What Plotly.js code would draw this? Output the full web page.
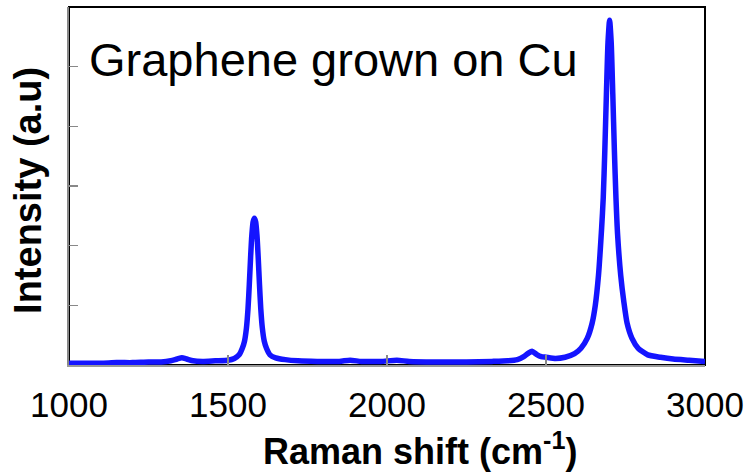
<!DOCTYPE html>
<html>
<head>
<meta charset="utf-8">
<script src="https://cdn.plot.ly/plotly-3.0.1.min.js"></script>
<style>html,body{margin:0;padding:0;background:#fff;}#chart{width:750px;height:476px;}</style>
</head>
<body>
<div id="chart"></div>
<script>
// Raman shift (cm^-1)
const ramanShift = [1000,1050,1100,1150,1200,1250,1290,1320,1340,1355,1370,1390,1420,1460,1500,1520,1535,1545,1552,1558,1563,1567,1571,1575,1579,1583,1587,1591,1595,1599,1603,1608,1614,1621,1632,1650,1680,1720,1780,1850,1884,1920,1980,2031,2070,2150,2250,2330,2380,2410,2430,2445,2456,2470,2485,2500,2530,2560,2590,2610,2630,2645,2655,2665,2675,2680,2685,2690,2695,2700,2705,2710,2715,2720,2725,2735,2745,2755,2770,2790,2820,2860,2900,2950,3000];
// Intensity (a.u.)
const intensity = [0.03,0.03,0.03,0.04,0.04,0.05,0.05,0.07,0.10,0.12,0.10,0.07,0.06,0.07,0.08,0.11,0.17,0.28,0.40,0.62,0.95,1.35,1.80,2.18,2.40,2.46,2.40,2.18,1.80,1.35,0.95,0.62,0.40,0.28,0.17,0.12,0.09,0.07,0.06,0.06,0.08,0.06,0.06,0.08,0.06,0.05,0.05,0.06,0.07,0.09,0.14,0.20,0.23,0.18,0.14,0.13,0.11,0.13,0.19,0.28,0.45,0.70,1.00,1.50,2.30,2.80,3.60,4.55,5.41,5.78,5.41,4.55,3.60,2.80,2.20,1.50,1.05,0.70,0.45,0.28,0.17,0.13,0.10,0.08,0.06];
const xTicks = [1000,1500,2000,2500,3000];
const xTickText = ['1000','1500','2000','2500','3000'];
const sampleLabel = 'Graphene grown on Cu';
const xTitle = '<b>Raman shift (cm<sup>-1</sup>)</b>';
const yTitle = '<b>Intensity (a.u)</b>';

const font = 'Liberation Sans, Arial, sans-serif';
const trace = {
  x: ramanShift, y: intensity, type: 'scatter', mode: 'lines',
  line: {color: 'rgb(20,20,255)', width: 5.5, shape: 'spline', smoothing: 0.6},
  hoverinfo: 'skip'
};
const layout = {
  width: 750, height: 476,
  margin: {l: 69, r: 45, t: 7, b: 111, pad: 0},
  paper_bgcolor: '#fff', plot_bgcolor: '#fff',
  showlegend: false,
  font: {family: font, color: '#000'},
  xaxis: {
    range: [1000, 3000], tickvals: xTicks, ticktext: xTickText,
    ticks: 'inside', ticklen: 10, tickwidth: 1.5, tickcolor: '#888',
    showgrid: false, zeroline: false,
    showline: true, linecolor: '#999', linewidth: 2,
    tickfont: {family: font, size: 35, color: '#000'},
    ticklabelstandoff: 8
  },
  yaxis: {
    range: [0, 6], dtick: 1, tick0: 0,
    ticks: 'inside', ticklen: 9, tickwidth: 1.5, tickcolor: '#888',
    showticklabels: false, showgrid: false, zeroline: false,
    showline: true, linecolor: '#888', linewidth: 2.5
  },
  shapes: [{
    type: 'rect', xref: 'paper', yref: 'paper', x0: 0, x1: 1, y0: 0, y1: 1,
    line: {color: '#000', width: 2}, layer: 'below'
  }],
  annotations: [
    {text: sampleLabel, xref: 'paper', yref: 'paper', x: 0.028, y: 0.853,
     xanchor: 'left', yanchor: 'middle', showarrow: false,
     font: {family: font, size: 47, color: '#000'}},
    {text: xTitle, xref: 'paper', yref: 'paper', x: 0.552, y: -0.236,
     xanchor: 'center', yanchor: 'middle', showarrow: false,
     font: {family: font, size: 36, color: '#000'}},
    {text: yTitle, xref: 'paper', yref: 'paper', x: -0.0645, y: 0.489,
     xanchor: 'center', yanchor: 'middle', showarrow: false, textangle: -90,
     font: {family: font, size: 38, color: '#000'}}
  ]
};
Plotly.newPlot('chart', [trace], layout, {displayModeBar: false, staticPlot: true});
</script>
</body>
</html>
